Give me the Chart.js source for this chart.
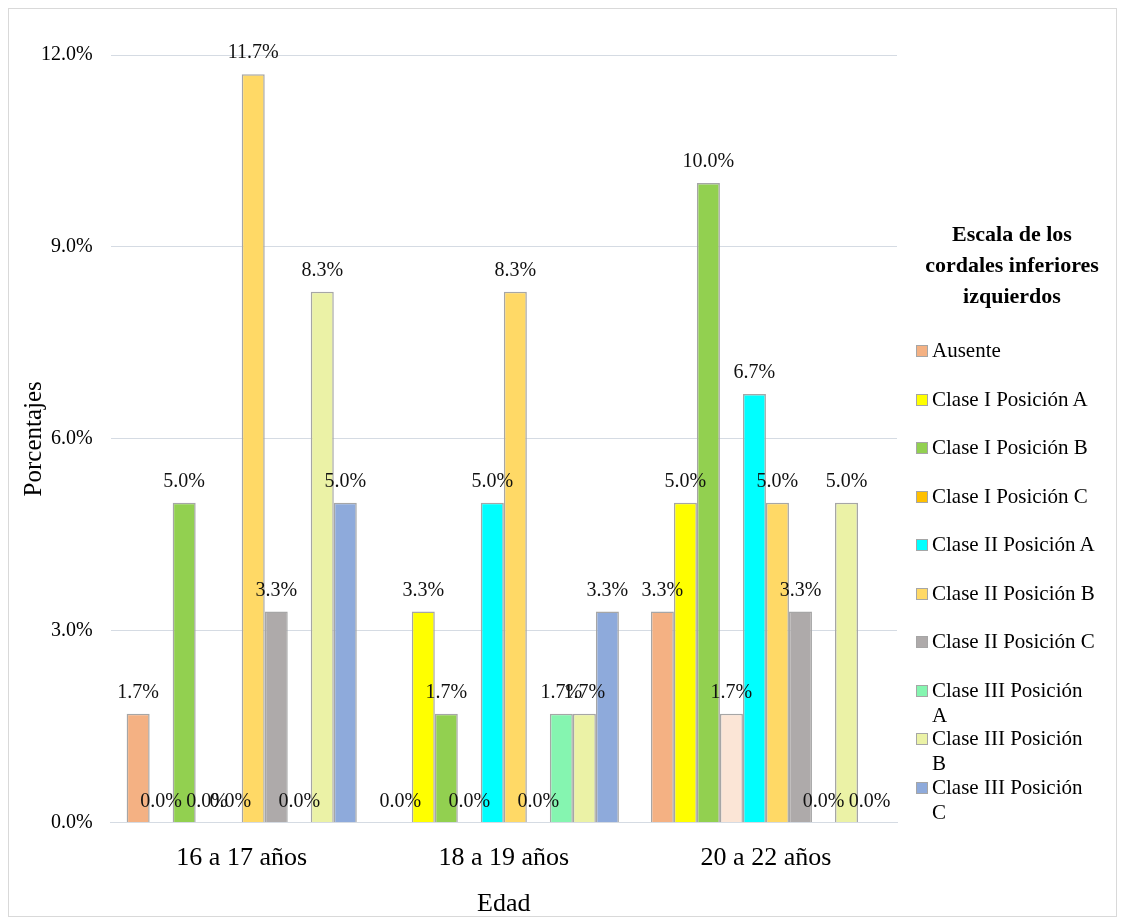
<!DOCTYPE html>
<html lang="es">
<head>
  <meta charset="utf-8">
  <title>Escala de los cordales inferiores izquierdos</title>
  <script src="https://cdn.jsdelivr.net/npm/chart.js@4"></script>
  <style>
    body { margin: 0; background: #fff; font-family: 'Liberation Serif', 'Times New Roman', serif; }
    .wrap { position: relative; width: 1124px; height: 924px; }
    .frame { position: absolute; left: 8px; top: 8px; width: 1107px; height: 907px; border: 1px solid #d9d9d9; pointer-events: none; }
    canvas { position: absolute; left: 0; top: 0; }
    .legend-title { position: absolute; left: 912px; top: 218px; width: 200px; text-align: center;
      font-weight: bold; font-size: 22px; line-height: 31px; color: #000; }
    .legend { position: absolute; left: 916px; top: 338px; }
    .legend-item { display: flex; align-items: flex-start; height: 48.5px; }
    .legend-box { width: 10px; height: 10px; border: 1px solid #a6a6a6; margin-top: 7px; flex: none; }
    .legend-text { margin-left: 4px; width: 167px; font-size: 21px; line-height: 25px; color: #000; }
  </style>
</head>
<body>
<div class="wrap">
  <canvas id="chart" width="1124" height="924"></canvas>
  <div class="legend-title">Escala de los<br>cordales inferiores<br>izquierdos</div>
  <div class="legend" id="legend"></div>
  <div class="frame"></div>
</div>

<script>
  const categorias = ['16 a 17 años', '18 a 19 años', '20 a 22 años'];
  const series = ['Ausente', 'Clase I Posición A', 'Clase I Posición B', 'Clase I Posición C',
    'Clase II Posición A', 'Clase II Posición B', 'Clase II Posición C',
    'Clase III Posición A', 'Clase III Posición B', 'Clase III Posición C'];

  // porcentajes por grupo de edad
  const ausente      = [1.7, 0.0, 3.3];
  const claseIPosA   = [0.0, 3.3, 5.0];
  const claseIPosB   = [5.0, 1.7, 10.0];
  const claseIPosC   = [0.0, 0.0, 1.7];
  const claseIIPosA  = [0.0, 5.0, 6.7];
  const claseIIPosB  = [11.7, 8.3, 5.0];
  const claseIIPosC  = [3.3, 0.0, 3.3];
  const claseIIIPosA = [0.0, 1.7, 0.0];
  const claseIIIPosB = [8.3, 1.7, 5.0];
  const claseIIIPosC = [5.0, 3.3, 0.0];
  const yTicks = [0, 3, 6, 9, 12];

  const valores = [ausente, claseIPosA, claseIPosB, claseIPosC, claseIIPosA,
    claseIIPosB, claseIIPosC, claseIIIPosA, claseIIIPosB, claseIIIPosC];
  const colores = ['#F4B183', '#FFFF00', '#92D050', '#FFC000', '#00FFFF',
    '#FFD966', '#AEAAAA', '#85F5B0', '#EBF2A6', '#8EAADB'];
  // la barra de Clase I Posición C en 20 a 22 años sale en otro tono
  const coloresBarras = colores.map((c, i) => i === 3 ? ['#FFC000', '#FFC000', '#FBE5D6'] : c);

  const serif = "'Liberation Serif', 'Times New Roman', serif";

  const etiquetas = {
    id: 'etiquetas',
    afterDatasetsDraw(chart) {
      const ctx = chart.ctx;
      ctx.save();
      ctx.font = '20px ' + serif;
      ctx.fillStyle = '#111';
      ctx.textAlign = 'center';
      ctx.textBaseline = 'bottom';
      chart.data.datasets.forEach((ds, i) => {
        chart.getDatasetMeta(i).data.forEach((bar, j) => {
          ctx.fillText(ds.data[j].toFixed(1) + '%', bar.x, bar.y - 11);
        });
      });
      ctx.restore();
    }
  };

  new Chart(document.getElementById('chart'), {
    type: 'bar',
    data: {
      labels: categorias,
      datasets: series.map((name, i) => ({
        label: name,
        data: valores[i],
        backgroundColor: coloresBarras[i],
        borderColor: '#A6A6A6',
        borderWidth: 1.5,
        categoryPercentage: 0.878,
        barPercentage: 1.0
      }))
    },
    options: {
      responsive: false,
      animation: false,
      layout: { padding: { left: 20, right: 227, top: 55, bottom: 1 } },
      scales: {
        x: {
          grid: { display: false, drawTicks: false },
          border: { color: '#D5DBE3' },
          ticks: { color: '#000', padding: 20, font: { family: serif, size: 26 } },
          title: { display: true, text: 'Edad', color: '#000', padding: { top: -5, bottom: 3 },
            font: { family: serif, size: 26 } }
        },
        y: {
          min: 0,
          max: 12,
          afterBuildTicks: axis => { axis.ticks = yTicks.map(v => ({ value: v })); },
          grid: { color: '#D5DBE3', drawTicks: false },
          border: { display: false },
          ticks: { color: '#000', padding: 18, font: { family: serif, size: 20 },
            callback: v => v.toFixed(1) + '%' },
          title: { display: true, text: 'Porcentajes', color: '#000', padding: { top: 2, bottom: -24 },
            font: { family: serif, size: 25, lineHeight: 1 } }
        }
      },
      plugins: {
        legend: { display: false },
        tooltip: { enabled: false }
      }
    },
    plugins: [etiquetas]
  });

  // leyenda a la derecha
  const legend = document.getElementById('legend');
  series.forEach((name, i) => {
    const item = document.createElement('div');
    item.className = 'legend-item';
    item.innerHTML = '<span class="legend-box" style="background:' + colores[i] + '"></span>' +
      '<span class="legend-text">' + name + '</span>';
    legend.appendChild(item);
  });
</script>
</body>
</html>
